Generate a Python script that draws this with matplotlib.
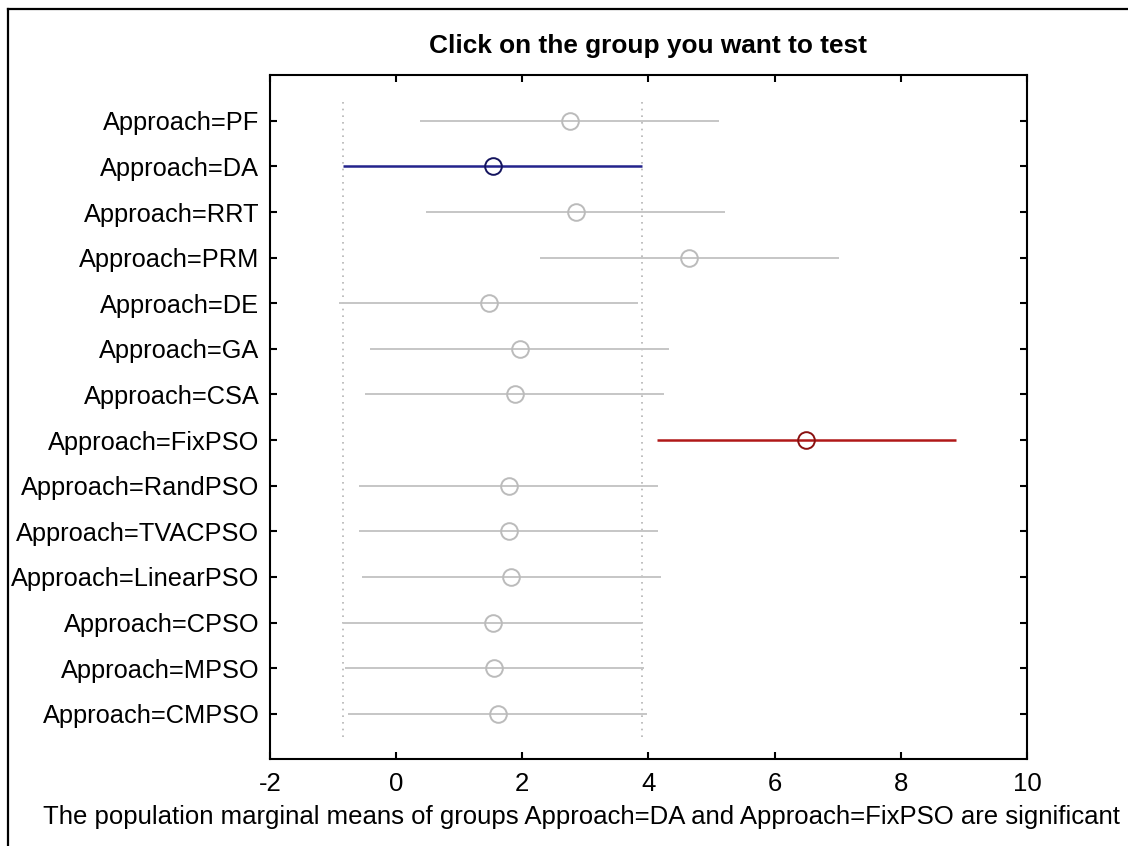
import matplotlib
matplotlib.use("Agg")
import matplotlib.pyplot as plt
from matplotlib.lines import Line2D

# Group names (top to bottom) and their population marginal means
groups = ["PF", "DA", "RRT", "PRM", "DE", "GA", "CSA", "FixPSO",
          "RandPSO", "TVACPSO", "LinearPSO", "CPSO", "MPSO", "CMPSO"]
means = [2.75, 1.53, 2.85, 4.65, 1.47, 1.96, 1.88, 6.50,
         1.79, 1.79, 1.83, 1.53, 1.56, 1.61]
half_width = 2.37          # comparison interval half-width (same for all groups)
selected = "DA"
significant = ["FixPSO"]

labels = ["Approach=" + g for g in groups]
xticks = [-2, 0, 2, 4, 6, 8, 10]
title = "Click on the group you want to test"
message = ("The population marginal means of groups Approach=DA and "
           "Approach=FixPSO are significant")

W, H = 1128, 846
plt.rcParams["font.family"] = ["Liberation Sans", "DejaVu Sans"]
fig = plt.figure(figsize=(W / 100, H / 100), dpi=100)
fig.patch.set_facecolor("white")

ax = fig.add_axes([269.8 / W, 1 - 759.3 / H, (1027 - 269.8) / W, (759.3 - 75.3) / H])

n = len(groups)
ypos = [n - i for i in range(n)]

gray_line = "#c6c6c6"
gray_mark = "#bbbbbb"
blue_line = "#23238c"
blue_mark = "#14145e"
red_line = "#b01818"
red_mark = "#8a1010"

# Dotted reference lines at the selected group's interval limits
sel_idx = groups.index(selected)
sel_lo = means[sel_idx] - half_width
sel_hi = means[sel_idx] + half_width
for xv in (sel_lo, sel_hi):
    ax.plot([xv, xv], [0.5, n + 0.5], ls=(0, (1, 3)), color="#b4b4b4",
            lw=1.2, zorder=1)

for g, m, y in zip(groups, means, ypos):
    if g == selected:
        lc, mc, lw, z = blue_line, blue_mark, 1.8, 4
    elif g in significant:
        lc, mc, lw, z = red_line, red_mark, 1.8, 4
    else:
        lc, mc, lw, z = gray_line, gray_mark, 1.4, 2
    ax.plot([m - half_width, m + half_width], [y, y], color=lc, lw=lw,
            solid_capstyle="butt", zorder=z)
    ax.plot([m], [y], marker="o", ms=12, mfc="none", mec=mc, mew=1.4,
            ls="none", zorder=z + 1)

ax.set_xlim(-2, 10)
ax.set_ylim(0, 15)
ax.set_xticks(xticks)
ax.set_xticklabels([str(t) for t in xticks])
ax.set_yticks(ypos)
ax.set_yticklabels(labels)

for s in ax.spines.values():
    s.set_linewidth(1.5)
    s.set_color("black")

ax.tick_params(axis="both", direction="in", length=5, width=1.5,
               colors="black", labelsize=18.5)
ax.tick_params(axis="y", left=True, right=True, pad=7.5, labelsize=18.3)
ax.tick_params(axis="x", top=True, bottom=True, pad=9)

ax.set_title(title, fontsize=18.9, fontweight="bold", pad=16)

fig.text(43 / W, 1 - 817 / H, message, fontsize=18.55, ha="left", va="center")

# Window frame along the left and top edges
fig.add_artist(Line2D([8 / W, 8 / W], [0, 1 - 9 / H], color="black", lw=1.6,
                      transform=fig.transFigure))
fig.add_artist(Line2D([8 / W, 1], [1 - 9 / H, 1 - 9 / H], color="black", lw=1.6,
                      transform=fig.transFigure))

fig.savefig("out.png", dpi=100, facecolor="white")
